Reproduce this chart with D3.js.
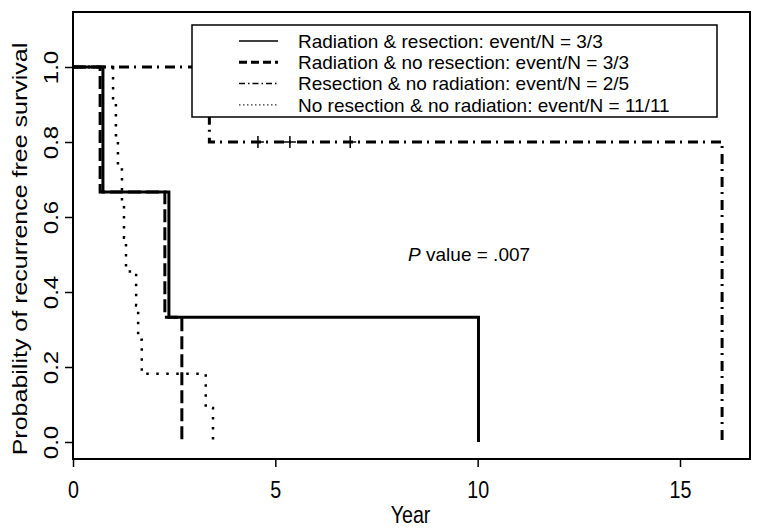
<!DOCTYPE html>
<meta charset="utf-8">
<script src="https://cdnjs.cloudflare.com/ajax/libs/d3/7.8.5/d3.min.js"></script>
<style>
  body { margin: 0; background: #fff; }
  text { font-family: "Liberation Sans", Arial, Helvetica, sans-serif; fill: #000; }
</style>
<body>
<div id="my_dataviz"></div>
<script>

// legend labels, one per group
var groupNames = [
  "Radiation & resection: event/N = 3/3",
  "Radiation & no resection: event/N = 3/3",
  "Resection & no radiation: event/N = 2/5",
  "No resection & no radiation: event/N = 11/11"
];

// Kaplan-Meier steps (years, survival)
var timesRadRes   = [0, 0.74, 2.37, 10.02];
var survRadRes    = [1, 0.667, 0.333, 0];

var timesRadNoRes = [0, 0.67, 2.27, 2.69];
var survRadNoRes  = [1, 0.667, 0.333, 0];

var timesResNoRad = [0, 3.37, 16.04];
var survResNoRad  = [1, 0.8, 0];
var censorResNoRad = [4.57, 5.36, 6.85];
var censorSurvResNoRad = [0.8, 0.8, 0.8];

var timesNone = [0, 0.99, 1.06, 1.11, 1.21, 1.26, 1.31, 1.56, 1.61, 1.70, 3.28, 3.46];
var survNone  = [1, 0.909, 0.818, 0.727, 0.636, 0.545, 0.455, 0.364, 0.273, 0.182, 0.091, 0];

var xTicks = [0, 5, 10, 15];
var yTicks = [0, 0.2, 0.4, 0.6, 0.8, 1.0];
var pText = " value = .007";

// size of the page / plot box
var W = 762, H = 528;
var box = {left: 73, right: 750, top: 12, bottom: 459};
// axis text in the original is squeezed sideways
var sq = 0.82;
var fs = "24px";

var x = d3.scaleLinear().domain([0, 15]).range([73, 680]);
var y = d3.scaleLinear().domain([0, 1]).range([442, 67]);

var svg = d3.select("#my_dataviz").append("svg")
    .attr("width", W)
    .attr("height", H);

// line styles (R lty 1, 2, 4, 3)
var styles = [
  {dash: null,        width: 3,   lwidth: 1.5, ldash: null},
  {dash: "13,5",      width: 3,   lwidth: 3,   ldash: "8,4"},
  {dash: "10,5,2,6",  width: 3,   lwidth: 1.5, ldash: "6,3,1.5,3"},
  {dash: "2.5,7.5",   width: 2.5, lwidth: 1,   ldash: "1.5,2.5"}
];

var series = [
  d3.zip(timesRadRes, survRadRes),
  d3.zip(timesRadNoRes, survRadNoRes),
  d3.zip(timesResNoRad, survResNoRad),
  d3.zip(timesNone, survNone)
];

var stepLine = d3.line()
    .x(function(d) { return x(d[0]); })
    .y(function(d) { return y(d[1]); })
    .curve(d3.curveStepAfter);

// draw curves (last first so the solid one ends on top)
[3, 2, 1, 0].forEach(function(i) {
  svg.append("path")
    .datum(series[i])
    .attr("d", stepLine)
    .attr("fill", "none")
    .attr("stroke", "#000")
    .attr("stroke-width", styles[i].width)
    .attr("stroke-dasharray", styles[i].dash);
});

// censoring marks
svg.selectAll(".censor")
  .data(d3.zip(censorResNoRad, censorSurvResNoRad))
  .enter()
  .append("path")
    .attr("class", "censor")
    .attr("d", function(d) {
      var cx = x(d[0]), cy = y(d[1]);
      return "M" + (cx - 6) + "," + cy + "H" + (cx + 6) + "M" + cx + "," + (cy - 6) + "V" + (cy + 6);
    })
    .attr("stroke", "#000")
    .attr("stroke-width", 1.5);

// plot box
svg.append("rect")
  .attr("x", box.left).attr("y", box.top)
  .attr("width", box.right - box.left).attr("height", box.bottom - box.top)
  .attr("fill", "none").attr("stroke", "#000").attr("stroke-width", 2);

// x axis
var gx = svg.append("g")
  .attr("transform", "translate(0," + box.bottom + ")")
  .call(d3.axisBottom(x).tickValues(xTicks).tickSize(8).tickPadding(14));
gx.attr("font-family", null).attr("font-size", null);
gx.select(".domain").remove();
gx.selectAll("line").attr("stroke-width", 1.5);
gx.selectAll("text")
  .style("font-size", fs)
  .attr("transform", "scale(" + sq + ",1)");

// y axis, labels turned like R does
var gy = svg.append("g")
  .attr("transform", "translate(" + box.left + ",0)")
  .call(d3.axisLeft(y).tickValues(yTicks).tickFormat(d3.format(".1f")).tickSize(8));
gy.attr("font-family", null).attr("font-size", null);
gy.select(".domain").remove();
gy.selectAll("line").attr("stroke-width", 1.5);
gy.selectAll("text")
  .attr("x", 0).attr("y", -15 / sq).attr("dy", 0)
  .attr("text-anchor", "middle")
  .attr("transform", "scale(" + sq + ",1) rotate(-90)")
  .style("font-size", fs);

// axis titles
svg.append("text")
  .attr("transform", "translate(" + ((x(0) + box.right) / 2 - 1) + ",523) scale(" + sq + ",1)")
  .attr("text-anchor", "middle")
  .style("font-size", fs)
  .text("Year");

svg.append("text")
  .attr("transform", "translate(27,249) scale(" + sq + ",1) rotate(-90)")
  .attr("text-anchor", "middle")
  .style("font-size", "25px")
  .text("Probability of recurrence free survival");

// P value
var pv = svg.append("text")
  .attr("x", x(8.28))
  .attr("y", y(0.5))
  .attr("dy", "0.35em")
  .style("font-size", "19px");
pv.append("tspan").style("font-style", "italic").text("P");
pv.append("tspan").text(pText);

// legend
var lg = svg.append("g");
lg.append("rect")
  .attr("x", 192).attr("y", 25)
  .attr("width", 717 - 192).attr("height", 117 - 25)
  .attr("fill", "#fff").attr("stroke", "#000").attr("stroke-width", 1.5);

var rows = lg.selectAll(".row")
  .data(groupNames)
  .enter()
  .append("g")
    .attr("class", "row")
    .attr("transform", function(d, i) { return "translate(0," + (41 + i * 21.3) + ")"; });

rows.append("line")
  .attr("x1", 239).attr("x2", 278)
  .attr("stroke", "#000")
  .attr("stroke-width", function(d, i) { return styles[i].lwidth; })
  .attr("stroke-dasharray", function(d, i) { return styles[i].ldash; });

rows.append("text")
  .attr("x", 298)
  .attr("dy", "0.35em")
  .style("font-size", "19px")
  .text(function(d) { return d; });

</script>
</body>
